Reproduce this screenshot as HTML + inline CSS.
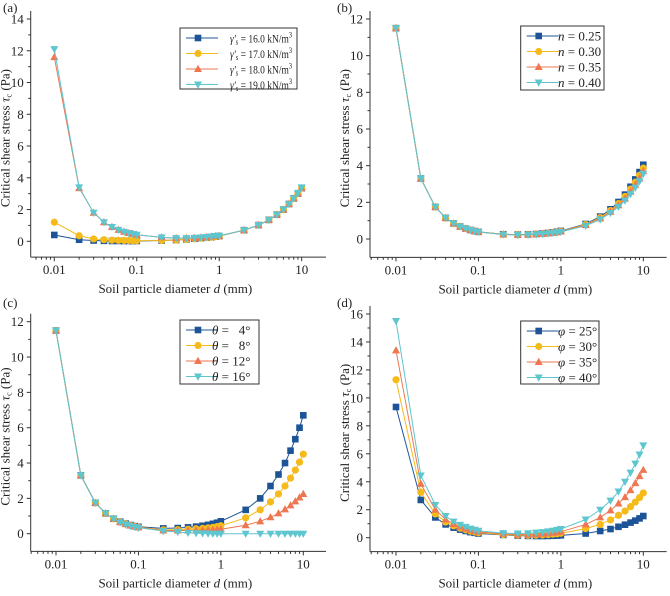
<!DOCTYPE html>
<html><head><meta charset="utf-8"><style>
body{margin:0;background:#fff}
svg, svg text{font-family:"Liberation Serif","Times New Roman","DejaVu Serif",serif}
</style></head><body>
<svg id="c" width="670" height="591" viewBox="0 0 670 591" font-family="Liberation Serif, serif"></svg>
<script>
const xs=[0.01,0.02,0.03,0.04,0.05,0.06,0.07,0.08,0.09,0.1,0.2,0.3,0.4,0.5,0.6,0.7,0.8,0.9,1,2,3,4,5,6,7,8,9,10];
const xTickLabels=["0.01","0.1","1","10"];
// Panel a
const a16=[0.4,0.1,0.05,0.03,0.02,0.02,0.02,0.02,0.02,0.02,0.05,0.08,0.12,0.16,0.2,0.23,0.26,0.29,0.33,0.7,1.02,1.35,1.68,2.0,2.35,2.7,3.0,3.35];
const a17=[1.2,0.35,0.15,0.1,0.07,0.06,0.05,0.05,0.04,0.04,0.05,0.08,0.12,0.16,0.2,0.23,0.26,0.29,0.33,0.7,1.02,1.35,1.68,2.0,2.35,2.7,3.0,3.35];
const a18=[11.6,3.35,1.8,1.2,0.9,0.72,0.6,0.52,0.46,0.41,0.25,0.2,0.2,0.22,0.24,0.27,0.3,0.33,0.35,0.7,1.02,1.35,1.68,2.0,2.35,2.7,3.0,3.35];
const a19=[12.1,3.4,1.8,1.2,0.9,0.72,0.6,0.52,0.46,0.41,0.25,0.2,0.2,0.22,0.24,0.27,0.3,0.33,0.35,0.7,1.02,1.35,1.68,2.0,2.35,2.7,3.05,3.4];
// Panel b
const b25=[11.5,3.3,1.75,1.15,0.85,0.68,0.57,0.49,0.43,0.39,0.26,0.24,0.25,0.27,0.3,0.33,0.36,0.4,0.44,0.82,1.22,1.62,2.02,2.42,2.85,3.25,3.65,4.05];
const b30=[11.5,3.3,1.75,1.15,0.85,0.68,0.57,0.49,0.43,0.39,0.25,0.23,0.24,0.26,0.29,0.32,0.35,0.38,0.42,0.79,1.17,1.55,1.93,2.32,2.72,3.1,3.48,3.87];
const b35=[11.5,3.3,1.75,1.15,0.85,0.68,0.57,0.49,0.43,0.39,0.25,0.23,0.24,0.26,0.28,0.31,0.34,0.37,0.41,0.76,1.12,1.48,1.84,2.2,2.58,2.95,3.3,3.7];
const b40=[11.5,3.3,1.75,1.15,0.85,0.68,0.57,0.49,0.43,0.39,0.24,0.22,0.23,0.25,0.27,0.3,0.33,0.36,0.39,0.72,1.07,1.42,1.76,2.1,2.45,2.8,3.15,3.55];
// Panel c
const c4=[11.5,3.3,1.75,1.15,0.85,0.68,0.57,0.49,0.43,0.39,0.3,0.32,0.36,0.4,0.45,0.5,0.56,0.62,0.7,1.35,2.0,2.7,3.35,4.0,4.7,5.35,6.0,6.7];
const c8=[11.5,3.3,1.75,1.15,0.85,0.66,0.55,0.47,0.41,0.37,0.22,0.23,0.25,0.28,0.3,0.33,0.36,0.4,0.45,0.9,1.35,1.8,2.25,2.7,3.15,3.6,4.05,4.5];
const c12=[11.5,3.3,1.75,1.15,0.85,0.65,0.54,0.46,0.4,0.36,0.18,0.18,0.18,0.19,0.2,0.21,0.22,0.23,0.25,0.48,0.7,0.93,1.15,1.38,1.6,1.83,2.05,2.25];
const c16=[11.5,3.3,1.75,1.15,0.85,0.64,0.52,0.44,0.38,0.34,0.15,0.1,0.05,0.03,0.02,0.01,0,0,0,0,0,0,0,0,0,0,0,0];
// Panel d
const d25=[9.35,2.7,1.45,0.95,0.72,0.58,0.48,0.4,0.35,0.3,0.2,0.15,0.13,0.12,0.12,0.13,0.14,0.15,0.17,0.3,0.48,0.62,0.78,0.93,1.08,1.22,1.38,1.55];
const d30=[11.3,3.25,1.7,1.12,0.85,0.68,0.56,0.47,0.41,0.36,0.22,0.18,0.17,0.18,0.2,0.22,0.25,0.28,0.32,0.65,0.95,1.27,1.6,1.9,2.22,2.55,2.87,3.2];
const d35=[13.4,3.85,2.0,1.3,0.98,0.78,0.65,0.55,0.48,0.42,0.27,0.22,0.22,0.25,0.28,0.31,0.35,0.39,0.43,0.95,1.45,1.95,2.45,2.9,3.4,3.9,4.4,4.85];
const d40=[15.5,4.45,2.35,1.55,1.15,0.92,0.77,0.65,0.57,0.5,0.33,0.3,0.32,0.36,0.4,0.45,0.5,0.56,0.62,1.3,2.0,2.65,3.3,4.0,4.65,5.3,5.95,6.6];

const COLORS=["#1c5497","#f5bb1a","#ee7752","#5ec6cf"];
const MARK=["sq","ci","tu","td"];
const NS="http://www.w3.org/2000/svg";
const FONT='"Liberation Serif", "DejaVu Serif", serif';
const svg=document.getElementById('c');
function el(t,at,p){const e=document.createElementNS(NS,t);for(const k in at)e.setAttribute(k,at[k]);if(t==='text'){e.setAttribute('font-family',FONT);e.setAttribute('xml:space','preserve');}(p||svg).appendChild(e);return e;}

function marker(g,type,x,y,col){
  if(type==="sq")return el('rect',{x:x-3.3,y:y-3.3,width:6.6,height:6.6,fill:col},g);
  if(type==="ci")return el('circle',{cx:x,cy:y,r:3.6,fill:col},g);
  if(type==="tu")return el('polygon',{points:`${x},${y-4.2} ${x+4},${y+3} ${x-4},${y+3}`,fill:col},g);
  return el('polygon',{points:`${x},${y+4.2} ${x+4},${y-3} ${x-4},${y-3}`,fill:col},g);
}

function panel(o){
  const g=el('g',{});
  
  
  const X=v=>o.x0+(Math.log10(v)+2)*(o.x1-o.x0)/3;
  const Y=v=>o.yz-(v)*(o.yz-o.ytop)/o.ymax;
  const yb=Y(-1);
  const ax=el('line',{x1:o.left,y1:yb,x2:o.right,y2:yb,stroke:"#333","stroke-width":1},g);
  
  const ay=el('line',{x1:o.left,y1:yb,x2:o.left,y2:Y(o.ymax)-8,stroke:"#333","stroke-width":1},g);
  
  for(let d=-3;d<=1;d++){for(let k=1;k<10;k++){const v=k*Math.pow(10,d);const px=X(v);if(px<o.left||px>o.right)continue;
    el('line',{x1:px,y1:yb,x2:px,y2:yb+(k===1?4:2.5),stroke:"#333"},g);}}
  xTickLabels.forEach(s=>{const t=el('text',{x:X(parseFloat(s)),y:yb+17,"font-size":13,"text-anchor":"middle",fill:"#222"},g);t.textContent=s;
    });
  for(let v=0;v<=o.ymax;v+=o.ystep/2){const py=Y(v);const major=(v%o.ystep===0);
    el('line',{x1:o.left,y1:py,x2:o.left-(major?4:2.5),y2:py,stroke:"#333"},g);
    if(major){const t=el('text',{x:o.left-7,y:py+4.5,"font-size":13,"text-anchor":"end",fill:"#222"},g);t.textContent=v;
      }}
  const xl=el('text',{x:(o.left+o.right)/2-3,y:yb+36,"font-size":13,"text-anchor":"middle",fill:"#222"},g);
  xl.innerHTML='Soil particle diameter <tspan font-style="italic">d</tspan> (mm)';
  
  const yl=el('text',{transform:`translate(${o.left-21},${(Y(o.ymax)+yb)/2}) rotate(-90)`,"font-size":13,"text-anchor":"middle",fill:"#222"},g);
  yl.innerHTML='Critical shear stress <tspan font-style="italic">τ</tspan><tspan font-size="8" dy="2">c</tspan><tspan dy="-2"> (Pa)</tspan>';
  
  const pl=el('text',{x:o.lx,y:o.ly,"font-size":13,fill:"#222"},g);pl.textContent='('+o.id+')';
  
  o.series.forEach((s,i)=>{
    const sg=el('g',{},g);
    
    
    el('polyline',{points:xs.map((x,j)=>X(x)+","+Y(s[j])).join(" "),fill:"none",stroke:COLORS[i],"stroke-width":1},sg);
    xs.forEach((x,j)=>{marker(sg,MARK[i],X(x),Y(s[j]),COLORS[i]);});
  });
  const L=o.leg;
  const lg=el('g',{},g);
  
  el('rect',{x:L.x,y:L.y,width:L.w,height:L.h,fill:"#fff",stroke:"#333","stroke-width":1},lg);
  o.labels.forEach((lab,i)=>{
    const ry=L.y+10+i*15.5;
    const e=el('g',{},lg);
    
    el('line',{x1:L.x+6,y1:ry,x2:L.x+38,y2:ry,stroke:COLORS[i],"stroke-width":1},e);
    marker(e,MARK[i],L.x+18,ry,COLORS[i]);
    const at={x:L.tx,y:ry+4.5,"font-size":L.fs||13,fill:"#222"};
    if(L.tl){at.textLength=L.tl;at.lengthAdjust="spacingAndGlyphs";}
    const t=el('text',at,e);t.innerHTML=lab;
  });
}
const gl=v=>'<tspan font-style="italic">γ′</tspan><tspan font-size="8" dy="2">s</tspan><tspan dy="-2"> = '+v+' kN/m</tspan><tspan font-size="8" dy="-5">3</tspan>';
panel({id:'a',x0:54.3,x1:301.7,left:30.7,right:326,yz:241.3,ytop:19,ymax:14,ystep:2,lx:3,ly:12,
  series:[a16,a17,a18,a19],leg:{x:180,y:28,w:117,h:61,tx:230,fs:12,tl:62},
  labels:[gl('16.0'),gl('17.0'),gl('18.0'),gl('19.0')]});
panel({id:'b',x0:396,x1:643.3,left:370,right:666.7,yz:239,ytop:19,ymax:12,ystep:2,lx:337,ly:12,
  series:[b25,b30,b35,b40],leg:{x:520.7,y:26,w:83.3,h:64,tx:558},
  labels:['<tspan font-style="italic">n</tspan> = 0.25','<tspan font-style="italic">n</tspan> = 0.30','<tspan font-style="italic">n</tspan> = 0.35','<tspan font-style="italic">n</tspan> = 0.40']});
panel({id:'c',x0:56,x1:303.3,left:30.7,right:326,yz:533.7,ytop:321.7,ymax:12,ystep:2,lx:3,ly:307,
  series:[c4,c8,c12,c16],leg:{x:180,y:320,w:79,h:64,tx:212},
  labels:['<tspan font-style="italic">θ</tspan> = \u20074°','<tspan font-style="italic">θ</tspan> = \u20078°','<tspan font-style="italic">θ</tspan> = 12°','<tspan font-style="italic">θ</tspan> = 16°']});
panel({id:'d',x0:396,x1:643.3,left:370,right:666.7,yz:537.7,ytop:314,ymax:16,ystep:2,lx:337,ly:307,
  series:[d25,d30,d35,d40],leg:{x:520.7,y:321,w:78.3,h:63,tx:558},
  labels:['<tspan font-style="italic">φ</tspan> = 25°','<tspan font-style="italic">φ</tspan> = 30°','<tspan font-style="italic">φ</tspan> = 35°','<tspan font-style="italic">φ</tspan> = 40°']});
</script>
</body></html>
